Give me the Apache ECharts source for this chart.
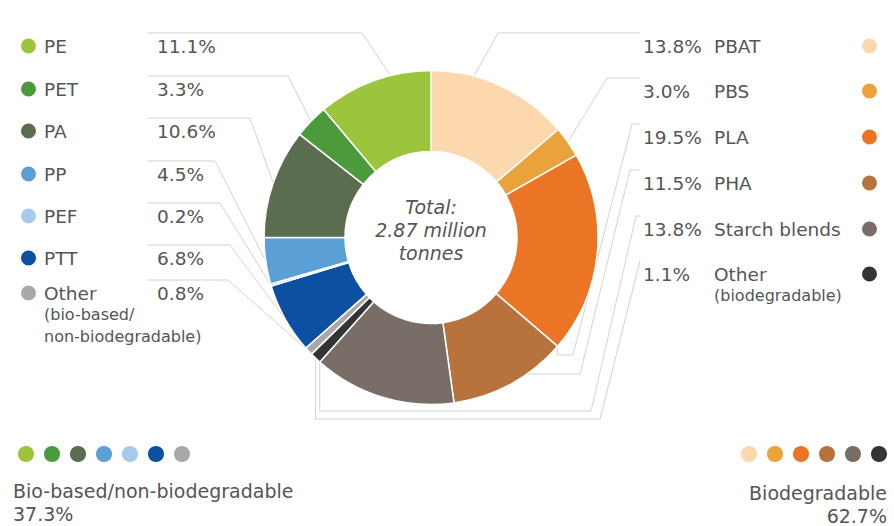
<!DOCTYPE html>
<html>
<head>
<meta charset="utf-8">
<script src="https://cdn.jsdelivr.net/npm/echarts@6/dist/echarts.min.js"></script>
<style>
  html, body { margin: 0; padding: 0; background: #fff; }
  #chart { width: 894px; height: 526px; }
</style>
</head>
<body>
<div id="chart"></div>
<script>
// Bio-based / non-biodegradable polymers (left column, top to bottom)
const bioNames  = ['PE', 'PET', 'PA', 'PP', 'PEF', 'PTT', 'Other'];
const bioNotes  = ['', '', '', '', '', '', '(bio-based/\nnon-biodegradable)'];
const bioShares = [11.1, 3.3, 10.6, 4.5, 0.2, 6.8, 0.8];

// Biodegradable polymers (right column, top to bottom)
const degNames  = ['PBAT', 'PBS', 'PLA', 'PHA', 'Starch blends', 'Other'];
const degNotes  = ['', '', '', '', '', '(biodegradable)'];
const degShares = [13.8, 3.0, 19.5, 11.5, 13.8, 1.1];

const centreLines = ['Total:', '2.87 million', 'tonnes'];
const groupTitles = ['Bio-based/non-biodegradable', 'Biodegradable'];

// ---- styling & layout ----
const bioColors = ['#9cc43c', '#4b9a3b', '#5a6d4f', '#5b9fd7', '#a6c9ec', '#0d50a2', '#a9a9a9'];
const degColors = ['#fdd7ad', '#eaa23b', '#ec7425', '#b8733d', '#786e67', '#343434'];
const FONT = '"DejaVu Sans", sans-serif';
const TEXT = '#555';
const LINE = '#d2d2d2';

const CX = 431, CY = 237.5, R_IN = 86, R_OUT = 167;
const leftRows  = [46, 89, 131, 174, 216, 258, 293];
const rightRows = [46, 91, 137, 183, 229, 274];
const LEFT_X = 21, LEFT_LINE_END = 147;
const RIGHT_X = 643, RIGHT_LINE_END = 640;

// leader routing: t = point along the slice arc, ex = elbow x on the row line,
// ry/rx = optional horizontal run beneath the ring
const leftRoutes = [
  { t: 0.65, ex: 362 }, { t: 0.5, ex: 288 }, { t: 0.5, ex: 250 }, { t: 0.5, ex: 215 },
  { t: 0.5, ex: 220 }, { t: 0.5, ex: 230 }, { t: 0.5, ex: 228 }
];
const rightRoutes = [
  { t: 0.3, ex: 498 }, { t: 0.5, ex: 607 },
  { t: 1, ex: 632, ry: 355, rx: 573 }, { t: 0.36, ex: 630, ry: 374, rx: 580 },
  { t: 1, ex: 636, ry: 411, rx: 591 }, { t: 0.5, ex: 640, ry: 419, rx: 600 }
];

const keyOf = (name, note) => note ? name + ' ' + note.replace('\n', ' ') : name;
const bioKeys = bioNames.map((n, i) => keyOf(n, bioNotes[i]));
const degKeys = degNames.map((n, i) => keyOf(n, degNotes[i]));

// ring order, clockwise from 12 o'clock: biodegradable first, then bio-based in reverse
const meta = [];
degNames.forEach((n, i) => meta.push({
  side: 'right', key: degKeys[i], name: n, note: degNotes[i], share: degShares[i],
  color: degColors[i], y: rightRows[i], route: rightRoutes[i]
}));
for (let i = bioNames.length - 1; i >= 0; i--) {
  meta.push({
    side: 'left', key: bioKeys[i], name: bioNames[i], note: bioNotes[i], share: bioShares[i],
    color: bioColors[i], y: leftRows[i], route: leftRoutes[i]
  });
}

const pieData = meta.map(m => ({
  name: m.key,
  value: m.share,
  itemStyle: { color: m.color },
  label: { rich: { dot: { backgroundColor: m.color } } }
}));

const sum = arr => arr.reduce((a, b) => a + b, 0);
const pct = v => v.toFixed(1) + '%';

const chart = echarts.init(document.getElementById('chart'), null, { renderer: 'svg' });

function labelText(p) {
  const m = meta[p.dataIndex];
  if (m.side === 'left') {
    let s = `{dot|}{g|}{name|${m.name}}{pct|${pct(m.share)}}`;
    if (m.note) m.note.split('\n').forEach(l => { s += `\n{ind|}{sub|${l}}`; });
    return s;
  }
  let s = `{rpct|${pct(m.share)}}{rname|${m.name}}{dot|}`;
  if (m.note) s += `\n{rpct|}{sub|${m.note}}`;
  return s;
}

function labelPlacement(p) {
  const m = meta[p.dataIndex];
  const lay = chart.getModel().getSeriesByIndex(0).getData().getItemLayout(p.dataIndex);
  const a = lay.startAngle + m.route.t * (lay.endAngle - lay.startAngle);
  const ax = lay.cx + lay.r * Math.cos(a);
  const ay = lay.cy + lay.r * Math.sin(a);
  const top = m.y - 13;
  let pts;
  if (m.side === 'left') {
    pts = [[ax, ay], [m.route.ex, top], [LEFT_LINE_END, top]];
  } else if (m.route.ry == null) {
    pts = [[ax, ay], [m.route.ex, top], [RIGHT_LINE_END, top]];
  } else {
    pts = [[ax, ay], [ax, m.route.ry], [m.route.rx, m.route.ry], [m.route.ex, top], [RIGHT_LINE_END, top]];
  }
  return {
    x: m.side === 'left' ? LEFT_X : RIGHT_X,
    y: m.y - 10,
    align: 'left',
    verticalAlign: 'top',
    labelLinePoints: pts
  };
}

const txt = (extra) => Object.assign({ fontFamily: FONT, color: TEXT, fontSize: 18.5, lineHeight: 20, verticalAlign: 'middle' }, extra);

const swatchLegend = (keys, pos) => Object.assign({
  data: keys, top: 444, orient: 'horizontal', padding: 0,
  icon: 'circle', itemWidth: 18, itemHeight: 18, itemGap: 6,
  selectedMode: false, formatter: () => ''
}, pos);

const option = {
  animation: false,
  backgroundColor: '#ffffff',
  legend: [
    swatchLegend(bioKeys, { left: 16 }),
    swatchLegend(degKeys, { right: 5 })
  ],
  graphic: [
    {
      type: 'text', x: CX, y: 230, silent: true,
      style: {
        text: centreLines.join('\n'), fill: TEXT, fontFamily: FONT, fontSize: 19,
        fontStyle: 'italic', align: 'center', verticalAlign: 'middle', lineHeight: 23
      }
    },
    {
      type: 'text', x: 13, y: 502, silent: true,
      style: {
        text: groupTitles[0] + '\n' + pct(sum(bioShares)), fill: TEXT, fontFamily: FONT,
        fontSize: 19, align: 'left', verticalAlign: 'middle', lineHeight: 23
      }
    },
    {
      type: 'text', x: 887, y: 504, silent: true,
      style: {
        text: groupTitles[1] + '\n' + pct(sum(degShares)), fill: TEXT, fontFamily: FONT,
        fontSize: 19, align: 'right', verticalAlign: 'middle', lineHeight: 23
      }
    }
  ],
  series: [
    {
      type: 'pie',
      center: [CX, CY],
      radius: [R_IN, R_OUT],
      startAngle: 90,
      clockwise: true,
      avoidLabelOverlap: false,
      silent: true,
      itemStyle: { borderColor: '#ffffff', borderWidth: 1.5 },
      emphasis: { disabled: true },
      label: {
        show: true,
        position: 'outer',
        alignTo: 'none',
        formatter: labelText,
        rich: {
          dot: { width: 15, height: 15, borderRadius: 7.5, verticalAlign: 'middle' },
          g: { width: 8 },
          name: txt({ width: 113 }),
          pct: txt({}),
          rpct: txt({ width: 71 }),
          rname: txt({ width: 148 }),
          ind: { width: 23 },
          sub: txt({ fontSize: 16, lineHeight: 22 })
        }
      },
      labelLine: {
        show: true, length: 6, length2: 6, smooth: false,
        lineStyle: { color: LINE, width: 1 }
      },
      labelLayout: labelPlacement,
      data: pieData
    }
  ]
};

chart.setOption(option);
</script>
</body>
</html>
